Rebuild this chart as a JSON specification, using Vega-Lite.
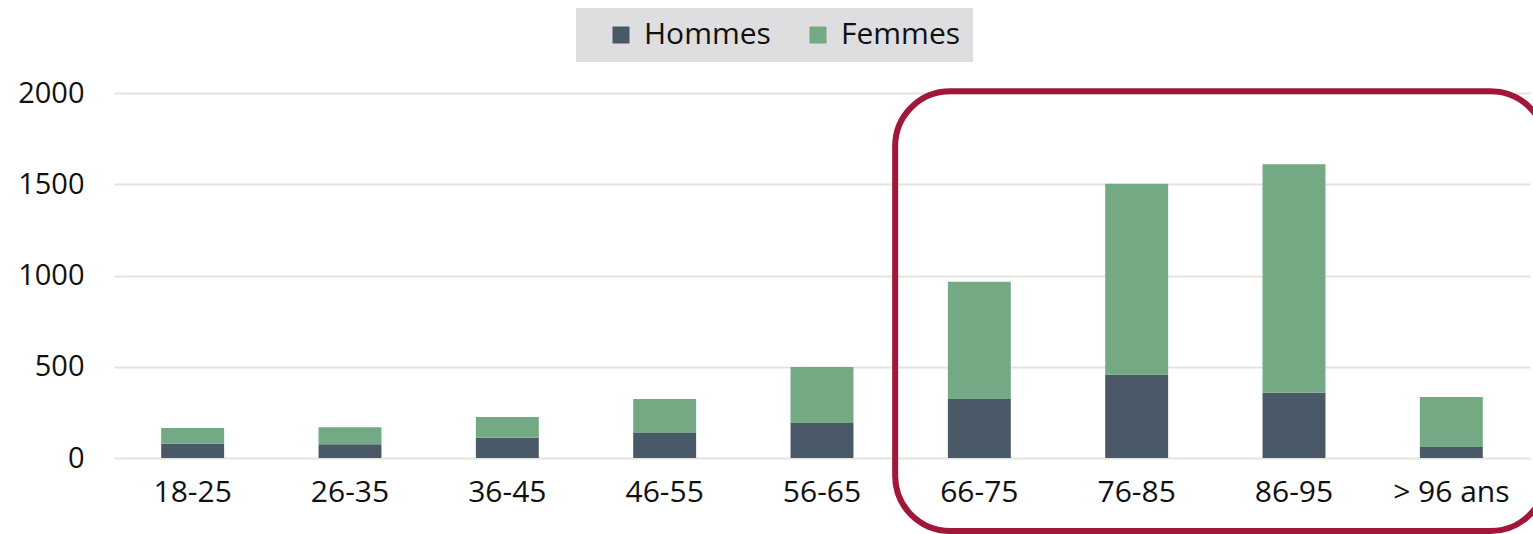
{
  "$schema": "https://vega.github.io/schema/vega-lite/v6.json",
  "width": 1416,
  "height": 365,
  "autosize": {"type": "none"},
  "padding": {"left": 114, "top": 93, "right": 3, "bottom": 76},
  "background": "white",
  "config": {
    "view": {"stroke": null},
    "font": "Open Sans"
  },
  "layer": [
    {
      "data": {
        "values": [
          {"age": "18-25", "sexe": "Hommes", "n": 78},
          {"age": "18-25", "sexe": "Femmes", "n": 86},
          {"age": "26-35", "sexe": "Hommes", "n": 75},
          {"age": "26-35", "sexe": "Femmes", "n": 93},
          {"age": "36-45", "sexe": "Hommes", "n": 111},
          {"age": "36-45", "sexe": "Femmes", "n": 114},
          {"age": "46-55", "sexe": "Hommes", "n": 137},
          {"age": "46-55", "sexe": "Femmes", "n": 186},
          {"age": "56-65", "sexe": "Hommes", "n": 192},
          {"age": "56-65", "sexe": "Femmes", "n": 307},
          {"age": "66-75", "sexe": "Hommes", "n": 323},
          {"age": "66-75", "sexe": "Femmes", "n": 643},
          {"age": "76-85", "sexe": "Hommes", "n": 456},
          {"age": "76-85", "sexe": "Femmes", "n": 1047},
          {"age": "86-95", "sexe": "Hommes", "n": 358},
          {"age": "86-95", "sexe": "Femmes", "n": 1251},
          {"age": "> 96 ans", "sexe": "Hommes", "n": 60},
          {"age": "> 96 ans", "sexe": "Femmes", "n": 274}
        ]
      },
      "mark": {"type": "bar"},
      "encoding": {
        "x": {
          "field": "age",
          "type": "nominal",
          "sort": null,
          "scale": {"paddingInner": 0.6, "paddingOuter": 0.3},
          "axis": {
            "title": null,
            "labelAngle": 0,
            "labelFontSize": 30,
            "labelColor": "#111111",
            "labelPadding": 19,
            "ticks": false,
            "domain": false,
            "grid": false
          }
        },
        "y": {
          "field": "n",
          "type": "quantitative",
          "stack": "zero",
          "scale": {"domain": [0, 2000], "nice": false},
          "axis": {
            "title": null,
            "values": [0, 500, 1000, 1500, 2000],
            "format": "d",
            "labelFontSize": 29,
            "labelColor": "#111111",
            "labelPadding": 30,
            "ticks": false,
            "domain": false,
            "grid": true,
            "gridColor": "#e6e3dc",
            "gridWidth": 2
          }
        },
        "color": {
          "field": "sexe",
          "type": "nominal",
          "scale": {"domain": ["Hommes", "Femmes"], "range": ["#4a5968", "#73aa83"]},
          "legend": {
            "title": null,
            "orient": "none",
            "direction": "horizontal",
            "legendX": 462,
            "legendY": -85,
            "fillColor": "#dedde0",
            "padding": 12,
            "symbolType": "square",
            "symbolSize": 289,
            "symbolStrokeWidth": 0,
            "symbolOffset": 18,
            "labelFontSize": 30,
            "labelColor": "#111111",
            "labelOffset": 8,
            "columnPadding": 14
          }
        },
        "order": {"field": "sexe", "sort": "descending"}
      }
    },
    {
      "data": {"values": [{"x0": 4.965, "x1": 9.1, "y0": -400, "y1": 2010}]},
      "mark": {"type": "rect", "filled": false, "stroke": "#a0173a", "strokeWidth": 6, "cornerRadius": 55, "clip": false},
      "encoding": {
        "x": {"field": "x0", "type": "quantitative", "scale": {"domain": [0, 9], "nice": false, "zero": false}, "axis": null},
        "x2": {"field": "x1"},
        "y": {"field": "y0", "type": "quantitative"},
        "y2": {"field": "y1"}
      }
    }
  ],
  "resolve": {"scale": {"x": "independent"}}
}
